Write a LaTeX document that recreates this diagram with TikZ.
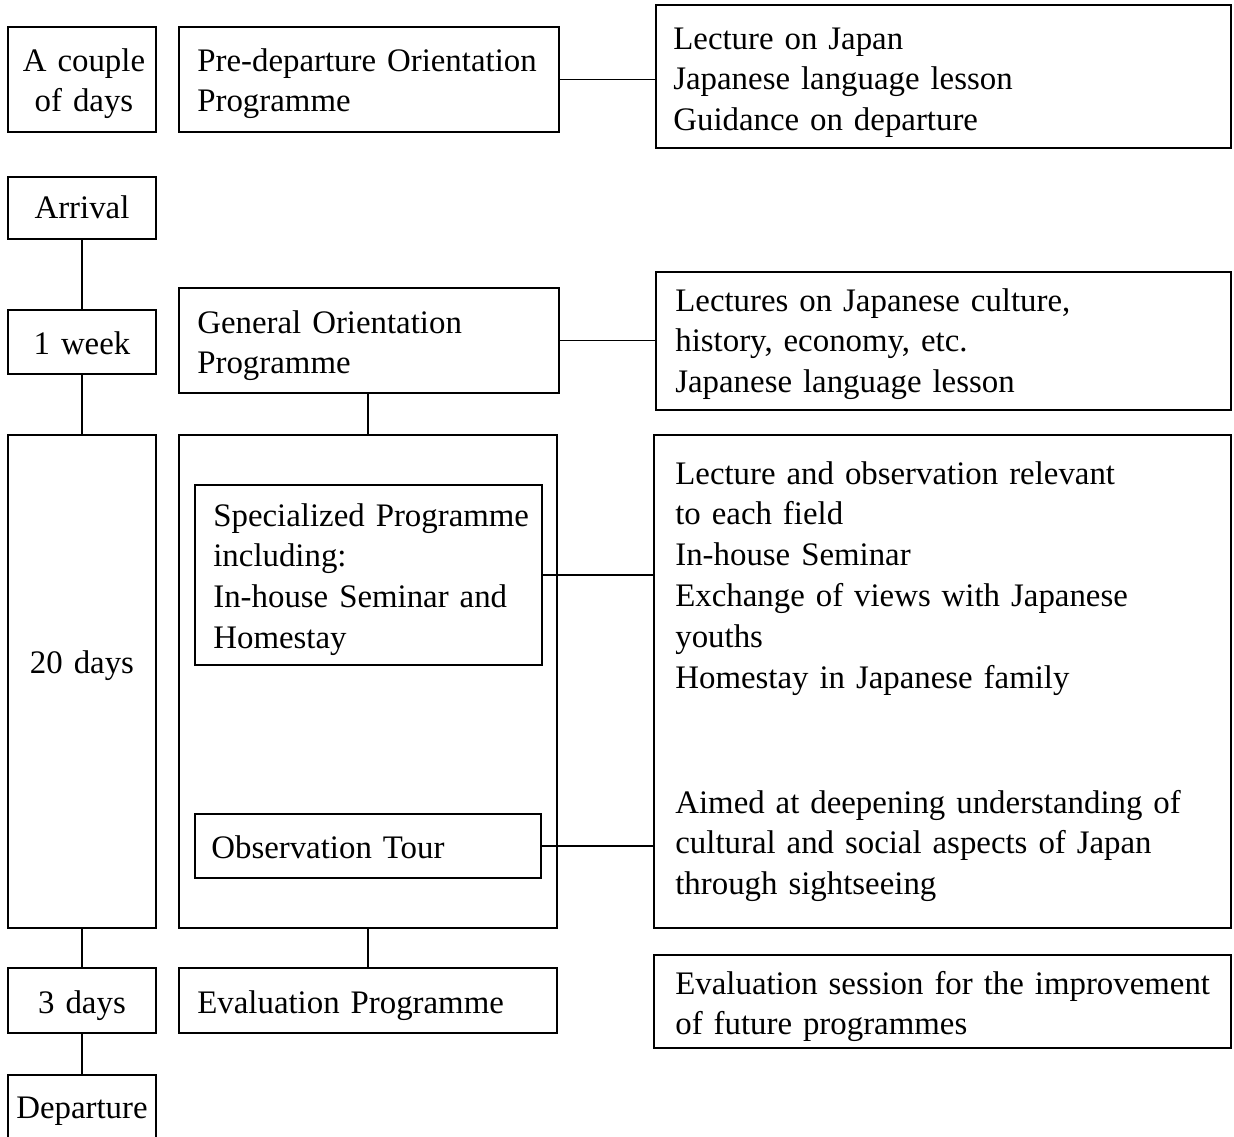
\documentclass[tikz,border=0pt]{standalone}
\usepackage{fontspec}
\setmainfont{Liberation Serif}[WordSpace={2,1.5,1}]
\usetikzlibrary{fit}
\begin{document}
\begin{tikzpicture}[x=0.02cm,y=-0.02cm,
  box/.style={draw, line width=0.9pt, inner sep=0pt, fit={#1}},
  txtfont/.style={font=\fontsize{18.7}{23.25}\selectfont},
  txt/.style={txtfont, inner sep=0pt, text width=11cm, align=left, anchor=base west},
  ctxt/.style={txtfont, inner sep=0pt, text width=2.96cm, align=center, anchor=base},
  link/.style={line width=0.9pt}]
\useasboundingbox (0,0) rectangle (1234,1136);
% left column
\node[box={(8,27) (156,132)}] (cpl) {};
\node[box={(8,177) (156,239)}] (arr) {};
\node[box={(8,310) (156,374)}] (wk) {};
\node[box={(8,435) (156,928)}] (d20) {};
\node[box={(8,968) (156,1033)}] (d3) {};
\node[box={(8,1075) (156,1150)}] (dep) {};
\node[ctxt] (tcpl) at (84,71) {A couple\\of days};
\node[ctxt] (tarr) at (82,218) {Arrival};
\node[ctxt] (twk) at (82,354) {1 week};
\node[ctxt] (td20) at (82,673) {20 days};
\node[ctxt] (td3) at (82,1013) {3 days};
\node[ctxt] (tdep) at (82,1118) {Departure};
% middle column
\node[box={(179,27) (559,132)}] (pre) {};
\node[box={(179,288) (559,393)}] (gen) {};
\node[box={(179,435) (557,928)}] (cont) {};
\node[box={(195,485) (542,665)}] (spec) {};
\node[box={(195,814) (541,878)}] (obs) {};
\node[box={(179,968) (557,1033)}] (evp) {};
\node[txt] (tpre) at (197,71) {Pre-departure Orientation\\Programme};
\node[txt] (tgen) at (197,333) {General Orientation\\Programme};
\node[txt] (tspec) at (213,526) {Specialized Programme\\including:\\In-house Seminar and\\Homestay};
\node[txt] (tobs) at (211,858) {Observation Tour};
\node[txt] (tevp) at (197,1013) {Evaluation Programme};
% right column
\node[box={(656,5) (1231,148)}] (r1) {};
\node[box={(656,272) (1231,410)}] (r2) {};
\node[box={(654,435) (1231,928)}] (r3) {};
\node[box={(654,955) (1231,1048)}] (r4) {};
\node[txt] (tr1) at (673,49) {Lecture on Japan\\Japanese language lesson\\Guidance on departure};
\node[txt] (tr2) at (675,311) {Lectures on Japanese culture,\\history, economy, etc.\\Japanese language lesson};
\node[txt] (tr3a) at (675,484) {Lecture and observation relevant\\to each field\\In-house Seminar\\Exchange of views with Japanese\\youths\\Homestay in Japanese family};
\node[txt] (tr3b) at (675,813) {Aimed at deepening understanding of\\cultural and social aspects of Japan\\through sightseeing};
\node[txt] (tr4) at (675,994) {Evaluation session for the improvement\\of future programmes};
% connectors
\draw[link] (arr.south) -- (wk.north);
\draw[link] (wk.south) -- (d20.north);
\draw[link] (d20.south) -- (d3.north);
\draw[link] (d3.south) -- (dep.north);
\draw[link] (cont.north) -- (cont.north |- gen.south);
\draw[link] (cont.south) -- (evp.north);
\draw[link] (pre.east) -- (pre.east -| r1.west);
\draw[link] (gen.east) -- (gen.east -| r2.west);
\draw[link] (spec.east) -- (spec.east -| r3.west);
\draw[link] (obs.east) -- (obs.east -| r3.west);
\end{tikzpicture}
\end{document}
